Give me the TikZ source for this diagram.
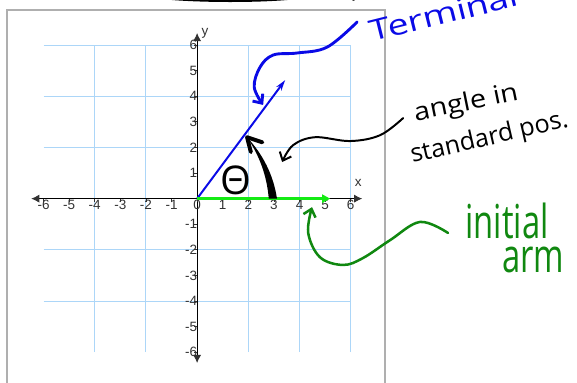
\documentclass[tikz,border=0pt]{standalone}
\usepackage{fontspec}
\setmainfont{Liberation Sans}
\newfontfamily\handfont{Open Sans}
\usetikzlibrary{arrows.meta}
\definecolor{gridblue}{RGB}{172,214,248}
\definecolor{axisgray}{RGB}{50,50,50}
\definecolor{armgreen}{RGB}{20,235,20}
\definecolor{notegreen}{RGB}{16,136,16}
\definecolor{noteblue}{RGB}{10,10,230}
\definecolor{framegray}{RGB}{175,175,175}
\begin{document}
\begin{tikzpicture}[x=0.5cm,y=0.5cm,
  ticklabel/.style={font=\fontsize{7.5}{8}\selectfont,text=axisgray,inner sep=0.5pt},
  axisline/.style={black,line width=0.5pt,{Latex[length=4.5pt,width=4.5pt,color=axisgray]}-{Latex[length=4.5pt,width=4.5pt,color=axisgray]}},
  note/.style={line width=1.1pt,line cap=round,line join=round},
  hand/.style={inner sep=0pt,anchor=base west}]
\path[use as bounding box] (-7.70,-7.20) rectangle (14.84,7.76);
\clip (-7.70,-7.20) rectangle (14.84,7.76);
\draw[framegray,line width=0.8pt] (-7.42,-8) -- (-7.42,7.37) -- (7.34,7.37) -- (7.34,-8);
\draw[black,line width=1.2pt,line cap=round] (-1.40,7.84) .. controls (0,7.69) and (2.5,7.68) .. (3.92,7.84);
\draw[black,line width=1pt,line cap=round] (6.02,7.82) -- (6.12,7.76);
\draw[gridblue,line width=0.55pt] (-6,-6) grid (6,6);
\coordinate (xmin) at (-6.48,0);
\coordinate (xmax) at (6.45,0);
\coordinate (ymin) at (0,-6.42);
\coordinate (ymax) at (0,6.47);
\draw[axisline] (xmin) -- (xmax);
\draw[axisline] (ymin) -- (ymax);
\foreach \i in {-6,...,6}{
  \draw[axisgray,line width=0.4pt] (\i,0) -- (\i,-0.12);
  \node[ticklabel,below] (xt\i) at (\i,-0.02) {\i};
}
\foreach \i in {-6,...,-1,1,2,...,6}{
  \draw[axisgray,line width=0.4pt] (0,\i) -- (-0.12,\i);
  \node[ticklabel,left] (yt\i) at (0.05,\i) {\i};
}
\node[ticklabel] (xlabel) at (6.29,0.61) {x};
\node[ticklabel] (ylabel) at (0.31,6.47) {y};
\coordinate (O) at (0,0);
\coordinate (term) at (3.44,4.63);
\coordinate (init) at (5.2,0);
\draw[noteblue,line width=1.1pt,-{Stealth[length=6pt,width=3.5pt]}] (O) -- (term);
\draw[armgreen,line width=1.7pt,-{Triangle[length=4.5pt,width=4.5pt]}] (O) -- (init);
\node[inner sep=0pt,font=\handfont\fontsize{22}{22}\selectfont] (theta) at (1.52,0.73) {Θ};
\coordinate (atip) at (1.95,2.40);
\fill (2.80,0) .. controls (2.72,0.9) and (2.45,1.65) .. (atip) .. controls (2.55,1.75) and (2.98,0.95) .. (3.12,0) -- cycle;
\draw[line width=2.2pt,line cap=round,line join=round] (2.10,1.82) -- (atip) -- (2.55,2.20);
\coordinate (bstart) at (8.05,3.15);
\coordinate (bend) at (3.32,1.43);
\draw[note,-{Straight Barb[length=4pt,width=7pt]}] plot[smooth,tension=0.6] coordinates {(bstart) (7.15,2.48) (5.98,2.25) (4.61,2.40) (3.75,2.09) (bend)};
\coordinate (tstart) at (6.25,6.90);
\coordinate (tend) at (2.58,3.66);
\draw[note,noteblue,line width=1.6pt,-{Straight Barb[length=4pt,width=7pt]}] plot[smooth,tension=0.6] coordinates {(tstart) (5.08,5.92) (3.91,5.69) (2.97,5.61) (2.46,5.14) (2.23,4.36) (tend)};
\coordinate (gstart) at (9.80,-1.34);
\coordinate (gend) at (4.49,-0.33);
\draw[note,notegreen,line width=1.4pt,-{Straight Barb[length=4pt,width=7pt]}] plot[smooth,tension=0.6] coordinates {(gstart) (8.71,-0.91) (7.54,-1.62) (6.48,-2.32) (5.70,-2.59) (4.80,-2.29) (4.34,-1.34) (gend)};
\node[hand,text=noteblue,rotate=14,font=\handfont\fontsize{16}{16}\selectfont] (terminal) at (6.84,6.12) {\scalebox{1.3}[1]{Terminal}};
\node[hand,rotate=11.5,font=\handfont\fontsize{14}{14}\selectfont] (anglein) at (8.52,3.03) {\scalebox{1.15}[1]{angle in}};
\node[hand,rotate=13,font=\handfont\fontsize{14}{14}\selectfont] (standard) at (8.40,1.39) {standard pos.};
\node[hand,text=notegreen,font=\handfont\fontsize{26}{26}\selectfont] (initial) at (10.47,-1.55) {\scalebox{0.7}[1]{initial}};
\node[hand,text=notegreen,font=\handfont\fontsize{26}{26}\selectfont] (arm) at (11.91,-2.87) {\scalebox{0.7}[1]{arm}};
\end{tikzpicture}
\end{document}
